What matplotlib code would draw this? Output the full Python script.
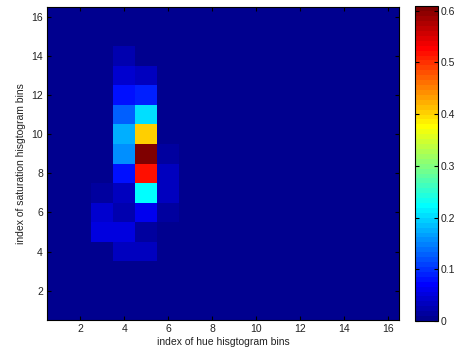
import numpy as np
import matplotlib
matplotlib.use('Agg')
import matplotlib.pyplot as plt
from matplotlib.colors import ListedColormap

plt.rcParams['font.family'] = ['Liberation Sans', 'DejaVu Sans']

# 16x16 hue/saturation histogram; rows = saturation bin (1..16), cols = hue bin (1..16)
n_bins = 16
# nonzero cells: (hue bin, saturation bin, value)
hue_idx = [4, 4, 5, 4, 5, 4, 5, 4, 5, 4, 5, 6, 4, 5, 6, 3, 4, 5, 6, 3, 4, 5, 6, 3, 4, 5, 6, 4, 5]
sat_idx = [14, 13, 13, 12, 12, 11, 11, 10, 10, 9, 9, 9, 8, 8, 8, 7, 7, 7, 7, 6, 6, 6, 6, 5, 5, 5, 5, 4, 4]
values = [0.02, 0.045, 0.03, 0.08, 0.09, 0.128, 0.204, 0.176, 0.408, 0.157, 0.608, 0.015,
          0.08, 0.52, 0.035, 0.015, 0.033, 0.223, 0.035, 0.043, 0.025, 0.062, 0.015,
          0.052, 0.052, 0.012, 0.008, 0.033, 0.033]

hist = np.zeros((n_bins, n_bins))
for h, s, v in zip(hue_idx, sat_idx, values):
    hist[s - 1, h - 1] = v


def matlab_jet(m=64):
    # same construction as MATLAB's jet(m)
    n = int(np.ceil(m / 4))
    u = np.concatenate([np.arange(1, n + 1) / n, np.ones(n - 1), np.arange(n, 0, -1) / n])
    g = int(np.ceil(n / 2)) - (1 if m % 4 == 1 else 0) + np.arange(1, len(u) + 1)
    r = g + n
    b = g - n
    cols = np.zeros((m, 3))
    for ch, idx in ((0, r), (1, g), (2, b)):
        ok = (idx >= 1) & (idx <= m)
        cols[idx[ok] - 1, ch] = u[ok]
    return ListedColormap(cols)


cmap = matlab_jet(64)

fig = plt.figure(figsize=(4.62, 3.54), dpi=100)
ax = fig.add_axes([0.102, 0.096, 0.762, 0.884])
im = ax.imshow(hist, cmap=cmap, origin='lower', aspect='auto',
               extent=[0.5, 16.5, 0.5, 16.5], vmin=0, vmax=0.608,
               interpolation='nearest')
ax.set_xticks(range(2, 17, 2))
ax.set_yticks(range(2, 17, 2))
ax.tick_params(direction='in', top=True, right=True, labelsize=7.5, length=3, pad=3,
               labelcolor='#222222')
ax.set_xlabel('index of hue hisgtogram bins', fontsize=7.5, labelpad=2, color='#222222')
ax.set_ylabel('index of saturation hisgtogram bins', fontsize=7.5, labelpad=4, color='#222222')

cax = fig.add_axes([0.898, 0.093, 0.05, 0.889])
cb = fig.colorbar(im, cax=cax, ticks=np.arange(0, 0.61, 0.1))
cb.ax.set_yticklabels(['0', '0.1', '0.2', '0.3', '0.4', '0.5', '0.6'])
cb.ax.tick_params(direction='in', left=True, right=True, labelsize=7.5, length=3, pad=2,
                  labelcolor='#222222')
cb.outline.set_linewidth(0.8)

fig.savefig('out.png', dpi=100)
